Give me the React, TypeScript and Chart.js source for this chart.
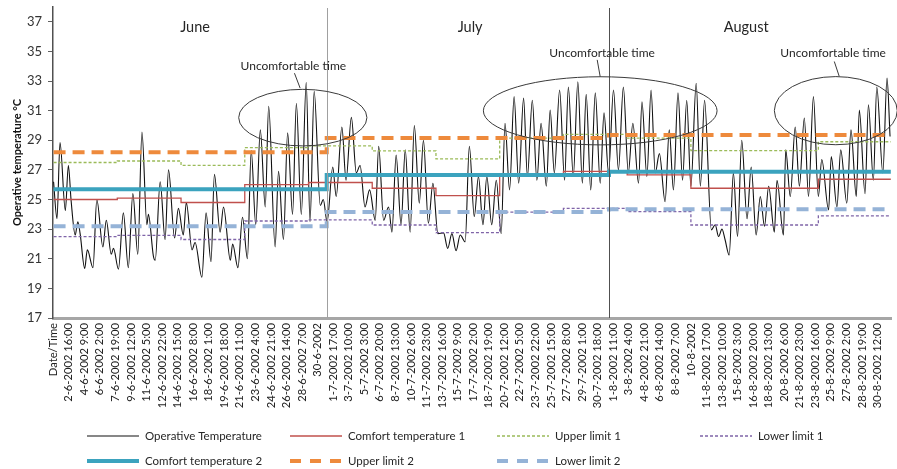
import React, { useEffect, useRef } from 'react';
import { Chart, registerables } from 'chart.js';

Chart.register(...registerables);

// ---------- axis labels ----------
const tickLabels = [
  'Date/Time', '2-6-2002 16:00', '4-6-2002 9:00', '6-6-2002 2:00', '7-6-2002 19:00', '9-6-2002 12:00',
  '11-6-2002 5:00', '12-6-2002 22:00', '14-6-2002 15:00', '16-6-2002 8:00', '18-6-2002 1:00',
  '19-6-2002 18:00', '21-6-2002 11:00', '23-6-2002 4:00', '24-6-2002 21:00', '26-6-2002 14:00',
  '28-6-2002 7:00', '30-6-2002', '1-7-2002 17:00', '3-7-2002 10:00', '5-7-2002 3:00', '6-7-2002 20:00',
  '8-7-2002 13:00', '10-7-2002 6:00', '11-7-2002 23:00', '13-7-2002 16:00', '15-7-2002 9:00',
  '17-7-2002 2:00', '18-7-2002 19:00', '20-7-2002 12:00', '22-7-2002 5:00', '23-7-2002 22:00',
  '25-7-2002 15:00', '27-7-2002 8:00', '29-7-2002 1:00', '30-7-2002 18:00', '1-8-2002 11:00',
  '3-8-2002 4:00', '4-8-2002 21:00', '6-8-2002 14:00', '8-8-2002 7:00', '10-8-2002', '11-8-2002 17:00',
  '13-8-2002 10:00', '15-8-2002 3:00', '16-8-2002 20:00', '18-8-2002 13:00', '20-8-2002 6:00',
  '21-8-2002 23:00', '23-8-2002 16:00', '25-8-2002 9:00', '27-8-2002 2:00', '28-8-2002 19:00',
  '30-8-2002 12:00',
];
const hoursPerLabel = 41; // one label every 41 hourly records (first record is the header)
const yTicks = [17, 19, 21, 23, 25, 27, 29, 31, 33, 35, 37];

// ---------- operative temperature (hours since 1-6-2002 0:00, °C) ----------
const opTime = [
  0, 9, 17, 31, 39, 46, 57, 64, 70, 82, 89, 104, 114, 130, 139, 152, 158, 171, 184, 197, 209, 222, 233, 246,
  250, 263, 268, 281, 294, 303, 319, 329, 342, 350, 365, 373, 391, 402, 415, 424, 439, 448, 466, 472, 486,
  498, 511, 521, 533, 545, 558, 567, 584, 593, 606, 617, 630, 640, 653, 666, 676, 687, 703, 711, 721,
  736, 745, 760, 771, 785, 798, 808, 821, 833, 848, 857, 870, 883, 892, 903, 916, 927, 940, 951, 964, 975,
  988, 1000, 1013, 1028, 1039, 1050, 1061, 1072, 1085, 1096, 1109, 1120, 1132, 1142, 1155, 1167, 1180,
  1190, 1202, 1214, 1226, 1239, 1249, 1262, 1274, 1285, 1299, 1309, 1320, 1334, 1347, 1357, 1370, 1382,
  1394, 1404, 1416, 1428, 1441, 1451, 1463,
  1476, 1489, 1502, 1515, 1527, 1542, 1551, 1564, 1575, 1586, 1597, 1612, 1623, 1634, 1646, 1658, 1669,
  1680, 1694, 1705, 1716, 1734, 1744, 1753, 1762, 1770, 1781, 1792, 1803, 1814, 1828, 1839, 1852, 1863,
  1874, 1885, 1900, 1907, 1924, 1930, 1942, 1955, 1966, 1979, 1990, 2003, 2016, 2025, 2043, 2050, 2065,
  2075, 2091, 2102, 2116, 2124, 2139, 2148, 2161, 2170, 2186, 2197, 2205,
];
const opTemp = [
  26.2, 23.7, 28.85, 24.25, 27.3, 25.0, 22.6, 23.5, 22.7, 20.35, 21.6, 20.4, 25.0, 21.8, 23.6, 21.3, 21.7,
  20.3, 24.1, 20.4, 25.4, 21.3, 29.55, 23.3, 24.0, 21.2, 20.9, 26.2, 22.3, 27.0, 22.4, 24.4, 22.6, 24.8,
  21.6, 22.1, 19.75, 24.1, 20.8, 26.7, 22.8, 24.5, 20.9, 22.0, 20.4, 23.8, 21.0, 28.3, 23.3, 29.7, 24.5,
  31.3, 21.8, 26.9, 22.3, 29.5, 24.0, 31.5, 24.0, 32.9, 23.5, 32.3, 24.6, 25.0, 23.5,
  27.2, 25.2, 29.9, 26.3, 30.55, 26.8, 27.3, 24.5, 25.65, 23.6, 28.6, 23.6, 24.5, 22.8, 28.0, 23.3, 28.35,
  22.8, 30.0, 24.75, 29.0, 23.4, 26.1, 22.7, 22.75, 21.7, 22.7, 21.55, 22.6, 22.15, 28.6, 23.85, 26.55,
  23.3, 26.55, 23.3, 26.3, 22.7, 30.15, 25.65, 31.95, 26.1, 31.85, 26.55, 31.7, 26.3, 30.15, 25.9, 31.05,
  26.8, 32.4, 26.3, 32.6, 26.55, 32.95, 26.1, 32.1, 25.65, 32.2, 26.1, 30.85, 26.8,
  32.4, 27.0, 32.6, 26.8, 30.15, 26.1, 31.6, 26.55, 32.4, 26.8, 28.1, 24.85, 29.7, 25.65, 32.2, 26.3, 31.7,
  25.9, 32.85, 25.9, 31.7, 22.95, 23.3, 22.5, 23.0, 22.3, 21.25, 26.8, 22.5, 29.0, 23.7, 27.2, 22.6, 25.2,
  23.2, 25.9, 22.8, 26.3, 22.6, 28.35, 25.2, 29.9, 25.9, 30.5, 25.2, 31.95, 25.2, 27.7, 24.3, 27.9, 24.5,
  28.35, 24.75, 29.7, 25.2, 31.05, 25.4, 31.4, 26.3, 32.6, 26.8, 33.2, 29.25,
];

// ---------- weekly comfort model 1 ----------
const weekStart = [0, 168, 336, 504, 672, 840, 1008, 1176, 1344, 1512, 1680, 1848, 2016, 2184];
const comfort1 = [25.0, 25.1, 24.8, 26.0, 26.15, 25.76, 25.27, 26.65, 26.9, 26.66, 25.76, 25.76, 26.37, 26.37];
const upper1 = [27.5, 27.6, 27.3, 28.5, 28.62, 28.28, 27.74, 29.15, 29.4, 29.14, 28.3, 28.3, 28.9, 28.9];
const lower1 = [22.5, 22.58, 22.3, 23.55, 23.62, 23.28, 22.76, 24.15, 24.4, 24.18, 23.28, 23.28, 23.9, 23.9];

// ---------- monthly comfort model 2 ----------
const months = ['June', 'July', 'August'];
const monthStart = [0, 720, 1464];
const comfort2 = [25.7, 26.65, 26.88];
const upper2 = [28.2, 29.15, 29.35];
const lower2 = [23.2, 24.15, 24.35];
const lastHour = 2207;

// ---------- annotations (data coordinates) ----------
const monthLabelTime = [373, 1098, 1826];
const monthLabelTemp = 36.6;
const noteText = 'Uncomfortable time';
const noteTextTime = [632, 1446, 2055];
const noteTextTemp = [34.03, 34.9, 34.9];
const ellipseTime = [657, 1441, 2062];
const ellipseTemp = [30.53, 30.99, 31.0];
const ellipseHalfTime = [169, 308, 162];
const ellipseHalfTemp = [1.91, 2.3, 2.3];
const leaderFrom = [[635, 33.53], [1433, 34.43], [2058, 34.32]];
const leaderTo = [[650, 32.52], [1441, 33.28], [2071, 33.32]];

const FONT = 'Lato, "Open Sans", sans-serif';

const steps = (starts: number[], vals: number[]) => [
  ...starts.map((t, i) => ({ x: t, y: vals[i] })),
  { x: lastHour, y: vals[vals.length - 1] },
];

const decorPlugin = {
  id: 'decor',
  afterDatasetsDraw(chart: any) {
    const { ctx, chartArea, scales } = chart;
    const x = scales.x;
    const y = scales.y;
    ctx.save();
    // month separators
    const sepColors = ['#a0a0a0', '#505050'];
    monthStart.slice(1).forEach((t, i) => {
      const px = Math.round(x.getPixelForValue(t)) + 0.5;
      ctx.strokeStyle = sepColors[i];
      ctx.lineWidth = 1;
      ctx.setLineDash([]);
      ctx.beginPath();
      ctx.moveTo(px, chartArea.top + 1);
      ctx.lineTo(px, chartArea.bottom);
      ctx.stroke();
    });
    // month names
    ctx.fillStyle = '#262626';
    ctx.textAlign = 'center';
    ctx.textBaseline = 'middle';
    ctx.font = `14.5px ${FONT}`;
    months.forEach((m, i) => {
      ctx.fillText(m, x.getPixelForValue(monthLabelTime[i]), y.getPixelForValue(monthLabelTemp));
    });
    // uncomfortable time notes
    ctx.strokeStyle = '#3a3a3a';
    ctx.lineWidth = 1;
    ctx.font = `12px ${FONT}`;
    noteTextTime.forEach((t, i) => {
      const cx = x.getPixelForValue(ellipseTime[i]);
      const cy = y.getPixelForValue(ellipseTemp[i]);
      const rx = Math.abs(x.getPixelForValue(ellipseTime[i] + ellipseHalfTime[i]) - cx);
      const ry = Math.abs(y.getPixelForValue(ellipseTemp[i] + ellipseHalfTemp[i]) - cy);
      ctx.beginPath();
      ctx.ellipse(cx, cy, rx, ry, 0, 0, Math.PI * 2);
      ctx.stroke();
      ctx.beginPath();
      ctx.moveTo(x.getPixelForValue(leaderFrom[i][0]), y.getPixelForValue(leaderFrom[i][1]));
      ctx.lineTo(x.getPixelForValue(leaderTo[i][0]), y.getPixelForValue(leaderTo[i][1]));
      ctx.stroke();
      ctx.fillText(noteText, x.getPixelForValue(t), y.getPixelForValue(noteTextTemp[i]));
    });
    ctx.restore();
  },
  afterDraw(chart: any) {
    const { ctx } = chart;
    const colX = [87, 290, 497, 700];
    const rowY = [436, 461];
    ctx.save();
    ctx.font = `11.5px ${FONT}`;
    ctx.textAlign = 'left';
    ctx.textBaseline = 'middle';
    chart.data.datasets.forEach((ds: any, i: number) => {
      const cx = colX[i % 4];
      const cy = rowY[Math.floor(i / 4)];
      ctx.strokeStyle = ds.borderColor;
      ctx.lineWidth = ds.borderWidth;
      ctx.setLineDash(ds.legendDash || ds.borderDash || []);
      ctx.beginPath();
      ctx.moveTo(cx, cy);
      ctx.lineTo(cx + 52, cy);
      ctx.stroke();
      ctx.setLineDash([]);
      ctx.fillStyle = '#262626';
      ctx.fillText(ds.label, cx + 58, cy + 0.5);
    });
    ctx.restore();
  },
};

export default function App() {
  const ref = useRef<HTMLCanvasElement | null>(null);
  useEffect(() => {
    if (!ref.current) return;
    const chart = new Chart(ref.current, {
      type: 'line',
      data: {
        datasets: [
          {
            label: 'Operative Temperature',
            data: opTime.map((t, i) => ({ x: t, y: opTemp[i] })),
            borderColor: '#111111',
            borderWidth: 1.1,
            pointRadius: 0,
            cubicInterpolationMode: 'monotone',
            order: 10,
          },
          {
            label: 'Comfort temperature 1',
            data: steps(weekStart, comfort1),
            borderColor: '#C0504D',
            borderWidth: 1.3,
            pointRadius: 0,
            stepped: true,
            order: 9,
          },
          {
            label: 'Upper limit 1',
            data: steps(weekStart, upper1),
            borderColor: '#9BBB59',
            borderWidth: 1.3,
            borderDash: [3, 2],
            pointRadius: 0,
            stepped: true,
            order: 8,
          },
          {
            label: 'Lower limit 1',
            data: steps(weekStart, lower1),
            borderColor: '#7F64A8',
            borderWidth: 1.3,
            borderDash: [3, 2],
            pointRadius: 0,
            stepped: true,
            order: 7,
          },
          {
            label: 'Comfort temperature 2',
            data: steps(monthStart, comfort2),
            borderColor: '#3BA3BE',
            borderWidth: 4,
            pointRadius: 0,
            stepped: true,
            order: 6,
          },
          {
            label: 'Upper limit 2',
            data: steps(monthStart, upper2),
            borderColor: '#EE8A3C',
            borderWidth: 4,
            borderDash: [12, 7],
            legendDash: [11, 9],
            pointRadius: 0,
            stepped: true,
            order: 5,
          },
          {
            label: 'Lower limit 2',
            data: steps(monthStart, lower2),
            borderColor: '#95B3D7',
            borderWidth: 4,
            borderDash: [12, 7],
            legendDash: [11, 9],
            pointRadius: 0,
            stepped: true,
            order: 4,
          },
        ] as any,
      },
      options: {
        animation: false,
        responsive: false,
        events: [],
        layout: { padding: { top: 7, right: 6, left: 0, bottom: 0 } },
        plugins: { legend: { display: false }, tooltip: { enabled: false } },
        scales: {
          x: {
            type: 'linear',
            min: -1.5,
            max: lastHour + 0.5,
            grid: { display: false, drawTicks: false },
            border: { display: true, color: '#a6a6a6', width: 3 },
            afterBuildTicks: (scale: any) => {
              scale.ticks = tickLabels.map((_, k) => ({ value: hoursPerLabel * k - 1 }));
            },
            afterFit: (scale: any) => {
              scale.height = 469 - 318;
              scale.paddingLeft = 0;
              scale.paddingRight = 0;
            },
            ticks: {
              autoSkip: false,
              maxRotation: 90,
              minRotation: 90,
              padding: 5,
              color: '#222222',
              font: { family: FONT, size: 11.2 },
              callback: (_v: any, i: number) => tickLabels[i],
            },
          },
          y: {
            min: 17,
            max: 38,
            grid: { display: true, drawOnChartArea: false, drawTicks: true, tickLength: 5, color: '#606060' },
            border: { display: true, color: '#505050', width: 1.5 },
            afterBuildTicks: (scale: any) => {
              scale.ticks = yTicks.map((v) => ({ value: v }));
            },
            afterFit: (scale: any) => {
              scale.width = 53;
              scale.paddingTop = 0;
              scale.paddingBottom = 0;
            },
            ticks: {
              padding: 6,
              color: '#333333',
              font: { family: FONT, size: 13 },
            },
            title: {
              display: true,
              text: 'Operative temperature °C',
              color: '#111111',
              padding: { top: 11, bottom: 0 },
              font: { family: FONT, size: 11, weight: 'bold' },
            },
          },
        },
      },
      plugins: [decorPlugin],
    } as any);
    return () => chart.destroy();
  }, []);
  return (
    <div style={{ position: 'absolute', left: 0, top: 0, width: 897, height: 469, background: '#fff' }}>
      <canvas ref={ref} width={897} height={469} />
    </div>
  );
}
